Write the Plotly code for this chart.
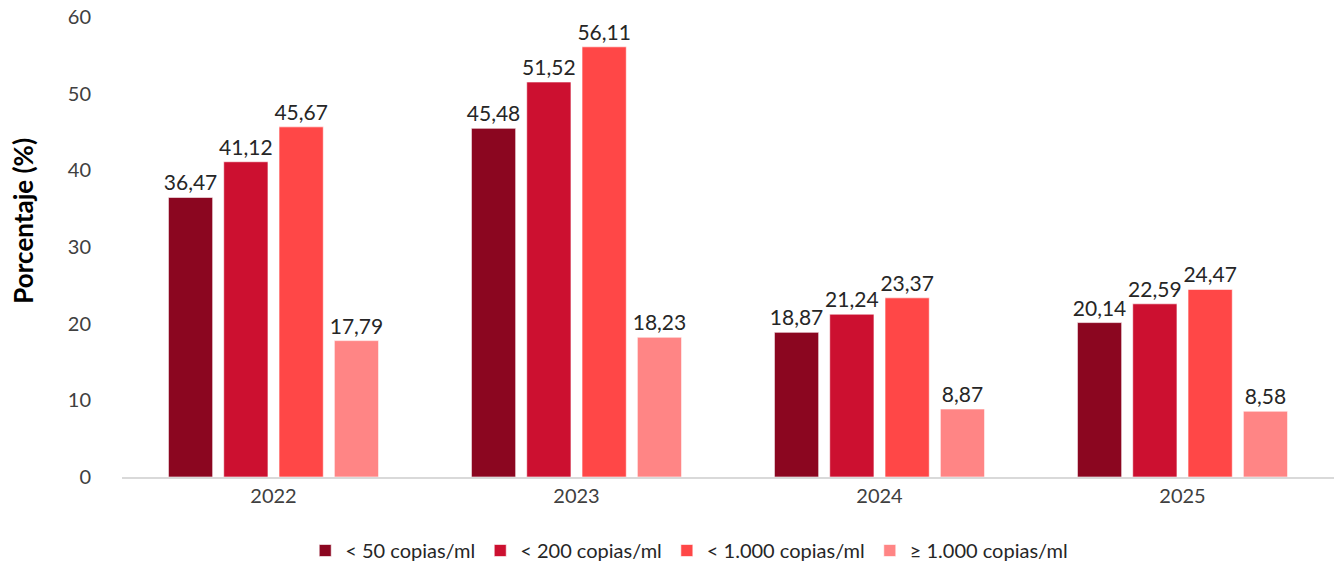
import plotly.graph_objects as go

years = ["2022", "2023", "2024", "2025"]
series_names = ["< 50 copias/ml", "< 200 copias/ml", "< 1.000 copias/ml", "≥ 1.000 copias/ml"]
v_50 = [36.47, 45.48, 18.87, 20.14]
v_200 = [41.12, 51.52, 21.24, 22.59]
v_1000 = [45.67, 56.11, 23.37, 24.47]
v_ge1000 = [17.79, 18.23, 8.87, 8.58]
colors = ["#8B0620", "#CC1030", "#FF4747", "#FF8585"]

FONT = "Lato, 'Open Sans', sans-serif"

fig = go.Figure()
for name, vals, col in zip(series_names, [v_50, v_200, v_1000, v_ge1000], colors):
    fig.add_trace(go.Bar(
        x=years, y=vals, name=name,
        marker=dict(color=col, line=dict(color="rgba(255,255,255,0.6)", width=1)),
        text=[f"{v:.2f}".replace(".", ",") for v in vals],
        textposition="outside", cliponaxis=False, constraintext="none",
        textfont=dict(size=21, color="#262626", family=FONT),
    ))

fig.update_layout(
    width=1334, height=570,
    margin=dict(l=122, r=0, t=17, b=93),
    barmode="group", bargap=0.27, bargroupgap=0.2,
    plot_bgcolor="white", paper_bgcolor="white",
    font=dict(family=FONT, size=20, color="#404040"),
    showlegend=True,
    legend=dict(orientation="h", x=0.468, xanchor="center", y=-0.118, yanchor="top",
                font=dict(size=20, color="#262626"), itemwidth=30, traceorder="normal"),
    annotations=[dict(text="<b>Porcentaje (%)</b>", textangle=-90, xref="paper", yref="paper",
                      x=-0.0818, y=0.557, xanchor="center", yanchor="middle", showarrow=False,
                      font=dict(size=26, color="#000000", family=FONT))],
)
fig.update_yaxes(range=[0, 60], dtick=10, showgrid=False, zeroline=False, showline=False,
                 automargin=False, ticklabeloverflow="allow",
                 ticklabelstandoff=30, tickfont=dict(size=20, color="#404040"))
fig.update_xaxes(showline=True, linecolor="#d9d9d9", linewidth=1.5, showgrid=False,
                 automargin=False,
                 tickfont=dict(size=20, color="#404040"))

fig.write_html("out.html", config={"displayModeBar": False},
               post_script="document.body.style.margin='0';")
